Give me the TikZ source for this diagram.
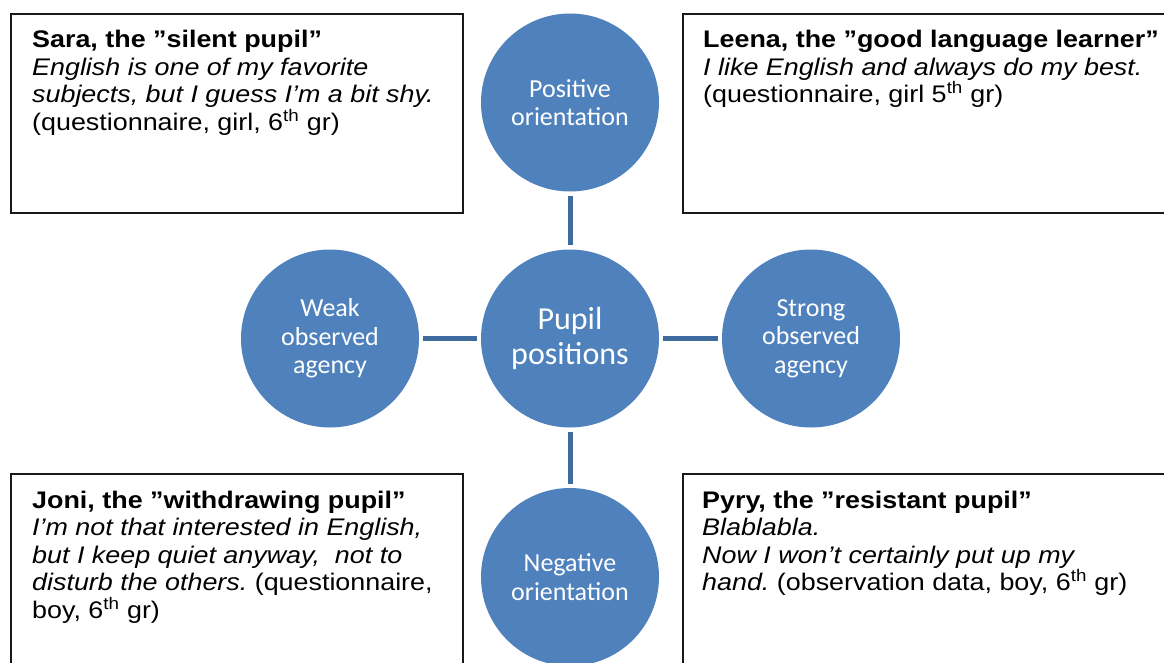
\documentclass[tikz,border=0pt]{standalone}
\usepackage{fontspec}
\setmainfont{Liberation Sans}
\newfontfamily\boxfont[FakeStretch=1.12]{Liberation Sans}
\newfontfamily\circfont{Carlito}
\definecolor{circblue}{HTML}{4F81BD}
\definecolor{linkblue}{HTML}{3F6A9F}
\frenchspacing
\begin{document}
\begin{tikzpicture}[x=1pt,y=-1pt,
  circ/.style={circle, fill=circblue, draw=none, minimum size=178pt, inner sep=0pt,
    text=white, align=center, font=\circfont\fontsize{26}{28.5}\selectfont},
  bigcirc/.style={circ, font=\circfont\fontsize{32}{35}\selectfont},
  link/.style={draw=linkblue, line width=5pt, shorten >=4pt, shorten <=4pt},
  casebox/.style={draw=black!90, line width=2pt, fill=white, inner sep=0pt, anchor=north west},
  casetext/.style={anchor=north west, inner sep=0pt, align=left,
    font=\boxfont\fontsize{24}{27.5}\selectfont\frenchspacing}
]
\useasboundingbox (0,0) rectangle (1164,662);
\clip (0,0) rectangle (1164,662);
\fill[white] (0,0) rectangle (1164,662);

% boxes
\node[casebox, minimum width=452pt, minimum height=199pt] (sarabox) at (9.7,12.7) {};
\node[casebox, minimum width=500pt, minimum height=199pt] (leenabox) at (681.7,12.7) {};
\node[casebox, minimum width=452pt, minimum height=220pt] (jonibox) at (9.7,473.3) {};
\node[casebox, minimum width=500pt, minimum height=220pt] (pyrybox) at (681.7,473.3) {};

\node[casetext] (saratext) at (32,28.1) {\strut\textbf{Sara, the ”silent pupil”}\\
  \textit{English is one of my favorite}\\
  \textit{subjects, but I guess I’m a bit shy.}\\
  (questionnaire, girl, 6\textsuperscript{th} gr)};
\node[casetext] (leenatext) at (703,28.1) {\strut\textbf{Leena, the ”good language learner”}\\
  \textit{I like English and always do my best.}\\
  (questionnaire, girl 5\textsuperscript{th} gr)};
\node[casetext] (jonitext) at (32,488.8) {\strut\textbf{Joni, the ”withdrawing pupil”}\\
  \textit{I’m not that interested in English,}\\
  \textit{but I keep quiet anyway,\ \ not to}\\
  {\itshape disturb the others.} (questionnaire,\\
  boy, 6\textsuperscript{th} gr)};
\node[casetext] (pyrytext) at (702,488.8) {\strut\textbf{Pyry, the ”resistant pupil”}\\
  \textit{Blablabla.}\\
  \textit{Now I won’t certainly put up my}\\
  {\itshape hand.} (observation data, boy, 6\textsuperscript{th} gr)};

% circles
\node[circ] (pos) at (570,102.5) {Positive\\orientation};
\node[bigcirc] (centre) at (570,338.5) {Pupil\\positions};
\node[circ] (weak) at (330,338.5) {Weak\\observed\\agency};
\node[circ] (strong) at (811,338.5) {Strong\\observed\\agency};
\node[circ] (neg) at (570,577) {Negative\\orientation};

% connectors
\draw[link] (pos) -- (centre);
\draw[link] (weak) -- (centre);
\draw[link] (centre) -- (strong);
\draw[link] (centre) -- (neg);
\end{tikzpicture}
\end{document}
